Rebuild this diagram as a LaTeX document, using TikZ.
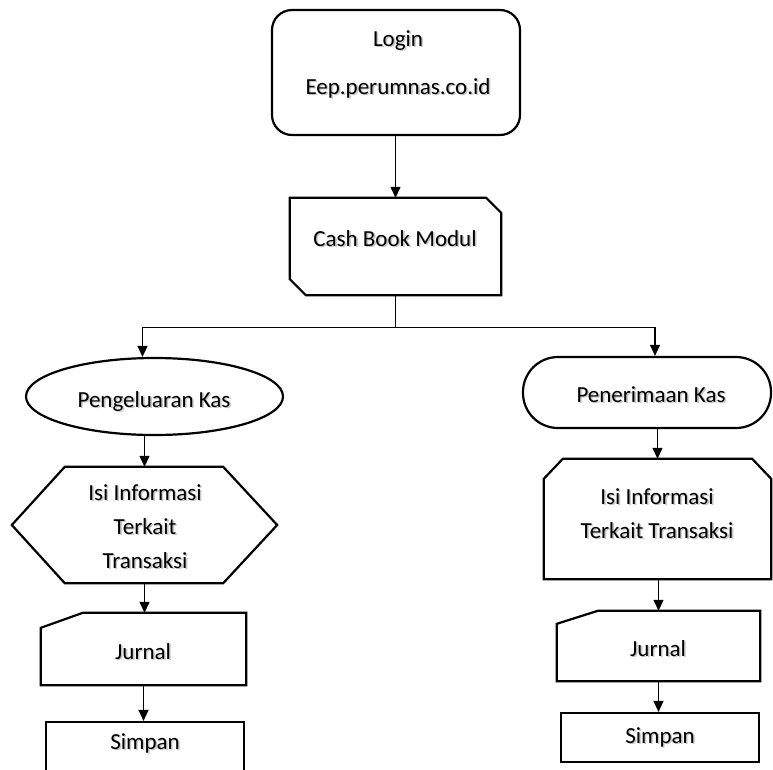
\documentclass[tikz,border=0pt]{standalone}
\usepackage{fontspec}
\setmainfont{Carlito}
\usetikzlibrary{arrows.meta,shapes.geometric,calc}

% text with a soft grey drop shadow
\newcommand{\shd}[1]{\leavevmode\rlap{\kern1.6pt\raisebox{-1.6pt}{\textcolor{black!22}{#1}}}#1}

\begin{document}
\begin{tikzpicture}[x=1pt,y=-1pt,
  frame/.style={draw=none,rectangle,inner sep=0pt},
  outline/.style={draw=black,line width=2.2pt,line join=miter},
  conn/.style={draw=black,line width=1.3pt,-{Triangle[length=11pt,width=10pt]}},
  plainline/.style={draw=black,line width=1.3pt},
  label/.style={inner sep=0pt,align=center,font=\fontsize{23}{34}\selectfont}]
\clip (0,0) rectangle (773,769);
\fill[white] (0,0) rectangle (773,769);

% ---- shapes ----
\node[outline,rectangle,rounded corners=20pt,minimum width=248pt,minimum height=125pt,inner sep=0pt] (login) at (396,72.5) {};

\node[frame,minimum width=211pt,minimum height=97pt] (cash) at (395.5,246.5) {};
\draw[outline] (cash.north west) -- ($(cash.north east)+(-15,0)$) -- ($(cash.north east)+(0,15)$)
  -- (cash.south east) -- ($(cash.south west)+(16,0)$) -- ($(cash.south west)+(0,-16)$) -- cycle;

\node[outline,ellipse,minimum width=257pt,minimum height=77pt,inner sep=0pt] (pk) at (154.5,396.5) {};
\node[outline,rectangle,rounded corners=35pt,minimum width=248pt,minimum height=71pt,inner sep=0pt] (pn) at (647,392.5) {};

\node[frame,minimum width=265pt,minimum height=116pt] (hex) at (144.5,525) {};
\draw[outline] (hex.west) -- ($(hex.north west)+(53,0)$) -- ($(hex.north east)+(-54,0)$)
  -- (hex.east) -- ($(hex.south east)+(-54,0)$) -- ($(hex.south west)+(53,0)$) -- cycle;

\node[frame,minimum width=227pt,minimum height=120pt] (isi) at (657.5,519) {};
\draw[outline] ($(isi.north west)+(0,20)$) -- ($(isi.north west)+(19,0)$) -- ($(isi.north east)+(-19,0)$)
  -- ($(isi.north east)+(0,20)$) -- (isi.south east) -- (isi.south west) -- cycle;

\node[frame,minimum width=205pt,minimum height=72pt] (j1) at (143.5,649) {};
\draw[outline] ($(j1.north west)+(0,15)$) -- ($(j1.north west)+(42,0)$) -- (j1.north east)
  -- (j1.south east) -- (j1.south west) -- cycle;

\node[frame,minimum width=203pt,minimum height=70pt] (j2) at (658.5,646) {};
\draw[outline] ($(j2.north west)+(0,13)$) -- ($(j2.north west)+(41,0)$) -- (j2.north east)
  -- (j2.south east) -- (j2.south west) -- cycle;

\node[outline,rectangle,minimum width=198pt,minimum height=68pt,inner sep=0pt] (s1) at (145,756) {};
\node[outline,rectangle,minimum width=198pt,minimum height=49pt,inner sep=0pt] (s2) at (660,737.5) {};

% ---- labels ----
\node[label] (login-t) at (398,65) {\shd{Login}\\[14pt]\shd{Eep.perumnas.co.id}};
\node[label] (cash-t) at (395,239) {\shd{Cash Book Modul}};
\node[label] (pk-t) at (154,402) {\shd{Pengeluaran Kas}};
\node[label] (pn-t) at (651,395) {\shd{Penerimaan Kas}};
\node[label] (hex-t) at (145,527) {\shd{Isi Informasi}\\\shd{Terkait}\\\shd{Transaksi}};
\node[label] (isi-t) at (657,514) {\shd{Isi Informasi}\\\shd{Terkait Transaksi}};
\node[label] (j1-t) at (143,652) {\shd{Jurnal}};
\node[label] (s1-t) at (145,744) {\shd{Simpan}};
\node[label] (j2-t) at (658,649) {\shd{Jurnal}};
\node[label] (s2-t) at (660,738) {\shd{Simpan}};

% ---- connectors ----
\coordinate (split) at ($(cash.south)+(0,32)$);
\draw[conn] (login.south -| cash.north) -- (cash.north);
\draw[plainline] (cash.south) -- (split);
\draw[conn] (split) -| ($(pk.north)+(-12,0)$);
\draw[conn] (split) -| ($(pn.north)+(8,0)$);
\draw[conn] (hex.north |- pk.south) -- (hex.north);
\draw[conn] (hex.south) -- (hex.south |- j1.north);
\draw[conn] (j1.south) -- (j1.south |- s1.north);
\draw[conn] (isi.north |- pn.south) -- (isi.north);
\draw[conn] (j2.north |- isi.south) -- (j2.north);
\draw[conn] (j2.south) -- (j2.south |- s2.north);
\end{tikzpicture}
\end{document}
